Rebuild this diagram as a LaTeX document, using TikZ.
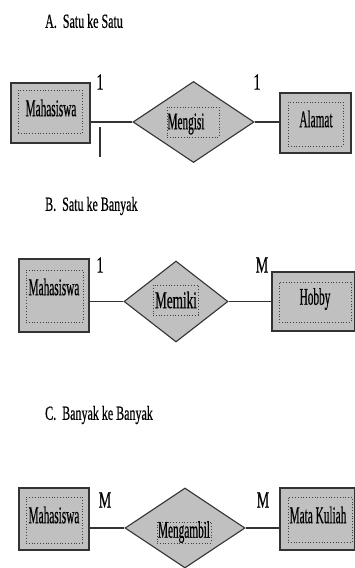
\documentclass[tikz,border=0pt]{standalone}
\usepackage{fontspec}
\usepackage{graphicx}
\setmainfont[FakeBold=0.7]{Liberation Serif}
\usetikzlibrary{shapes.geometric,shadows}
\definecolor{boxgray}{HTML}{C0C0C0}
\definecolor{edgegray}{HTML}{333333}
\newcommand\cnd[1]{\scalebox{0.47}[1]{#1}}
\newcommand\ttl[1]{\scalebox{0.6}[1]{#1}}
\newcommand\crd[1]{\scalebox{0.62}[1]{#1}}
\begin{document}
\begin{tikzpicture}[x=1pt,y=-1pt,
  entity/.style={rectangle,draw=edgegray,line width=1.2pt,fill=boxgray,inner sep=0pt,
    drop shadow={shadow xshift=1.1pt,shadow yshift=-1.1pt,fill=edgegray,opacity=1}},
  rel/.style={diamond,draw=edgegray,line width=1.1pt,fill=boxgray,inner sep=0pt},
  inner/.style={rectangle,draw=black!75,dotted,line width=0.8pt,inner sep=0pt},
  lbl/.style={inner sep=0pt,font=\fontsize{24}{26}\selectfont},
  card/.style={inner sep=0pt,font=\fontsize{23}{25}\selectfont},
  title/.style={inner sep=0pt,anchor=west,font=\fontsize{20}{22}\selectfont},
  conn/.style={draw=edgegray,line width=1.1pt}]
\useasboundingbox (0,0) rectangle (355,568);
% ---------- A ----------
\node[title] (tA) at (45,21) {\ttl{A.\ \ Satu ke Satu}};
\node[entity,minimum width=79pt,minimum height=60pt] (eA1) at (50.5,113) {};
\node[inner,minimum width=64pt,minimum height=43pt] (iA1) at (50,111.5) {};
\node[lbl] (xA1) at (51,108) {\cnd{Mahasiswa}};
\node[rel,minimum width=121pt,minimum height=81pt] (rA) at (193.5,122) {};
\node[inner,minimum width=52pt,minimum height=30pt] (irA) at (193,122) {};
\node[lbl] (xrA) at (186,124) {\cnd{Mengisi}};
\node[entity,minimum width=71pt,minimum height=60pt] (eA2) at (315.5,123) {};
\node[inner,minimum width=55pt,minimum height=44pt] (iA2) at (315.5,124) {};
\node[lbl] (xA2) at (316,119) {\cnd{Alamat}};
\node[card] (cA1) at (100,82) {\crd{1}};
\node[card] (cA2) at (257,82) {\crd{1}};
\draw[conn] (rA.west -| eA1.east) -- (rA.west);
\draw[conn] (rA.east) -- (rA.east -| eA2.west);
\coordinate (tk1) at (100,127);
\coordinate (tk2) at (100,157);
\draw[conn,line width=1.4pt] (tk1) -- (tk2);
% ---------- B ----------
\node[title] (tB) at (45,206) {\ttl{B.\ \ Satu ke Banyak}};
\node[entity,minimum width=70pt,minimum height=73pt] (eB1) at (54,295.5) {};
\node[inner,minimum width=57pt,minimum height=52pt] (iB1) at (54.5,296) {};
\node[lbl] (xB1) at (54,287) {\cnd{Mahasiswa}};
\node[rel,minimum width=104pt,minimum height=81pt] (rB) at (176,301.5) {};
\node[inner,minimum width=45pt,minimum height=30pt] (irB) at (175.5,300) {};
\node[lbl] (xrB) at (176,300) {\scalebox{0.55}[1]{Memiki}};
\node[entity,minimum width=83pt,minimum height=59pt] (eB2) at (313.5,301.5) {};
\node[inner,minimum width=72pt,minimum height=40pt] (iB2) at (315,302) {};
\node[lbl] (xB2) at (315,299) {\cnd{Hobby}};
\node[card] (cB1) at (100,265) {\crd{1}};
\node[card] (cB2) at (262,265) {\crd{M}};
\draw[conn] (rB.west -| eB1.east) -- (rB.west);
\draw[conn] (rB.east) -- (rB.east -| eB2.west);
% ---------- C ----------
\node[title] (tC) at (45,415) {\ttl{C.\ \ Banyak ke Banyak}};
\node[entity,minimum width=70pt,minimum height=62pt] (eC1) at (54,519) {};
\node[inner,minimum width=56pt,minimum height=46pt] (iC1) at (54,520) {};
\node[lbl] (xC1) at (54,515) {\cnd{Mahasiswa}};
\node[rel,minimum width=120pt,minimum height=80pt] (rC) at (185,528) {};
\node[inner,minimum width=54pt,minimum height=21pt] (irC) at (184,532.5) {};
\node[lbl] (xrC) at (184,532) {\cnd{Mengambil}};
\node[entity,minimum width=75pt,minimum height=62pt] (eC2) at (317.5,519) {};
\node[inner,minimum width=64pt,minimum height=45pt] (iC2) at (320,519.5) {};
\node[lbl] (xC2) at (318,515) {\cnd{Mata Kuliah}};
\node[card] (cC1) at (105,500) {\crd{M}};
\node[card] (cC2) at (263,500) {\crd{M}};
\draw[conn] (rC.west -| eC1.east) -- (rC.west);
\draw[conn] (rC.east) -- (rC.east -| eC2.west);
\end{tikzpicture}
\end{document}
